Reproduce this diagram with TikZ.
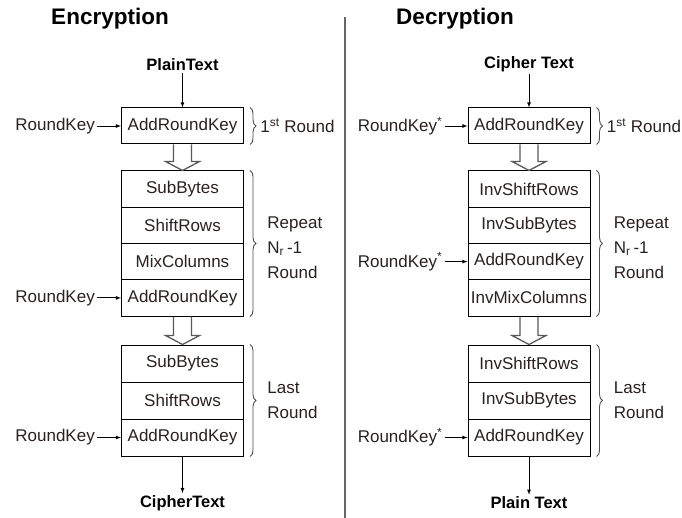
\documentclass[tikz,border=0pt]{standalone}
\usepackage{fontspec}
\setmainfont{Liberation Sans}
\usepackage{xcolor}
\usepackage{tikz}
\usetikzlibrary{calc}
\usetikzlibrary{arrows}
\usetikzlibrary{arrows.meta}
\usetikzlibrary{positioning}
\usetikzlibrary{decorations.pathreplacing}
\definecolor{ink}{HTML}{2A2020}
\tikzset{>=latex}
\tikzstyle{stage} = [rectangle, draw=black, line width=1pt, minimum width=122pt, inner sep=0pt, text=ink, font=\fontsize{17}{20}\selectfont]
\tikzstyle{lbl} = [inner sep=2pt, text=ink, font=\fontsize{17}{25}\selectfont, align=left]
\tikzstyle{io} = [inner sep=2pt, font=\bfseries\fontsize{16.5}{20}\selectfont]
\tikzstyle{title} = [inner sep=0pt, font=\bfseries\fontsize{22.5}{26}\selectfont]
\tikzstyle{brc} = [draw=black!70, line width=0.9pt, decorate, decoration={brace, amplitude=6pt}]
\tikzstyle{fat} = [draw=black!65, line width=1.3pt, line join=miter]
% hollow arrow between two stacks
\newcommand{\fatarrow}[2]{%
  \draw [fat] ($(#1.south)+(-9,0)$) -- ($(#2.north)+(-9,-9)$) -- ($(#2.north)+(-17,-9)$)
    -- (#2.north) -- ($(#2.north)+(17,-9)$) -- ($(#2.north)+(9,-9)$) -- ($(#1.south)+(9,0)$);}

\begin{document}
\begin{tikzpicture}[x=1pt, y=-1pt]
\useasboundingbox (0,0) rectangle (682,518);
\draw [black!60, line width=1.6pt] (345,17) -- (345,518);

% Encryption
\node [title] (enc) at (110,19) {Encryption};
\node [io] (pt) at (182.5,65) {PlainText};
\node [stage, minimum height=36pt] (ark1) at (182.5,126) {AddRoundKey};
\node [stage, minimum height=36.25pt] (sb1) at (182.5,189.1) {SubBytes};
\node [stage, minimum height=36.25pt] (sr1) at (182.5,225.4) {ShiftRows};
\node [stage, minimum height=36.25pt] (mc1) at (182.5,261.6) {MixColumns};
\node [stage, minimum height=36.25pt] (ark2) at (182.5,297.9) {AddRoundKey};
\node [stage, minimum height=37pt] (sb2) at (182.5,363.5) {SubBytes};
\node [stage, minimum height=37pt] (sr2) at (182.5,400.5) {ShiftRows};
\node [stage, minimum height=37pt] (ark3) at (182.5,437.5) {AddRoundKey};
\node [io] (ct) at (182.5,503) {CipherText};
\node [lbl, left=24pt of ark1] (rk1) {RoundKey};
\node [lbl, left=24pt of ark2] (rk2) {RoundKey};
\node [lbl, left=24pt of ark3] (rk3) {RoundKey};
\draw [->, line width=0.8pt] (pt) -- (ark1);
\draw [->, line width=0.8pt] (ark3) -- (ct);
\draw [->, line width=0.8pt] (rk1) -- (ark1);
\draw [->, line width=0.8pt] (rk2) -- (ark2);
\draw [->, line width=0.8pt] (rk3) -- (ark3);
\fatarrow{ark1}{sb1}
\fatarrow{ark2}{sb2}
\draw [brc] ($(ark1.north east)+(6,0)$) -- ($(ark1.south east)+(6,0)$)
  node [lbl, midway, right=8pt] (r1) {1\textsuperscript{st} Round};
\draw [brc] ($(sb1.north east)+(6,0)$) -- ($(ark2.south east)+(6,0)$)
  node [lbl, midway, right=15pt, yshift=-4pt] (r2) {Repeat\\N\textsubscript{r}\,-1\\Round};
\draw [brc] ($(sb2.north east)+(6,0)$) -- ($(ark3.south east)+(6,0)$)
  node [lbl, midway, right=15pt] (r3) {Last\\Round};

% Decryption
\node [title] (dec) at (455,19) {Decryption};
\node [io] (ct2) at (529,64) {Cipher Text};
\node [stage, minimum height=36pt] (dark1) at (529,126) {AddRoundKey};
\node [stage, minimum height=36.25pt] (isr1) at (529,189.1) {InvShiftRows};
\node [stage, minimum height=36.25pt] (isb1) at (529,225.4) {InvSubBytes};
\node [stage, minimum height=36.25pt] (dark2) at (529,261.6) {AddRoundKey};
\node [stage, minimum height=36.25pt] (imc1) at (529,297.9) {InvMixColumns};
\node [stage, minimum height=37pt] (isr2) at (529,363.5) {InvShiftRows};
\node [stage, minimum height=37pt] (isb2) at (529,400.5) {InvSubBytes};
\node [stage, minimum height=37pt] (dark3) at (529,437.5) {AddRoundKey};
\node [io] (pt2) at (529,503) {Plain Text};
\node [lbl, left=23pt of dark1] (drk1) {RoundKey\textsuperscript{*}};
\node [lbl, left=23pt of dark2] (drk2) {RoundKey\textsuperscript{*}};
\node [lbl, left=23pt of dark3] (drk3) {RoundKey\textsuperscript{*}};
\draw [->, line width=0.8pt] (ct2) -- (dark1);
\draw [->, line width=0.8pt] (dark3) -- (pt2);
\draw [->, line width=0.8pt] (drk1) -- (dark1);
\draw [->, line width=0.8pt] (drk2) -- (dark2);
\draw [->, line width=0.8pt] (drk3) -- (dark3);
\fatarrow{dark1}{isr1}
\fatarrow{imc1}{isr2}
\draw [brc] ($(dark1.north east)+(6,0)$) -- ($(dark1.south east)+(6,0)$)
  node [lbl, midway, right=8pt] (dr1) {1\textsuperscript{st} Round};
\draw [brc] ($(isr1.north east)+(6,0)$) -- ($(imc1.south east)+(6,0)$)
  node [lbl, midway, right=15pt, yshift=-4pt] (dr2) {Repeat\\N\textsubscript{r}\,-1\\Round};
\draw [brc] ($(isr2.north east)+(6,0)$) -- ($(dark3.south east)+(6,0)$)
  node [lbl, midway, right=15pt] (dr3) {Last\\Round};
\end{tikzpicture}
\end{document}
